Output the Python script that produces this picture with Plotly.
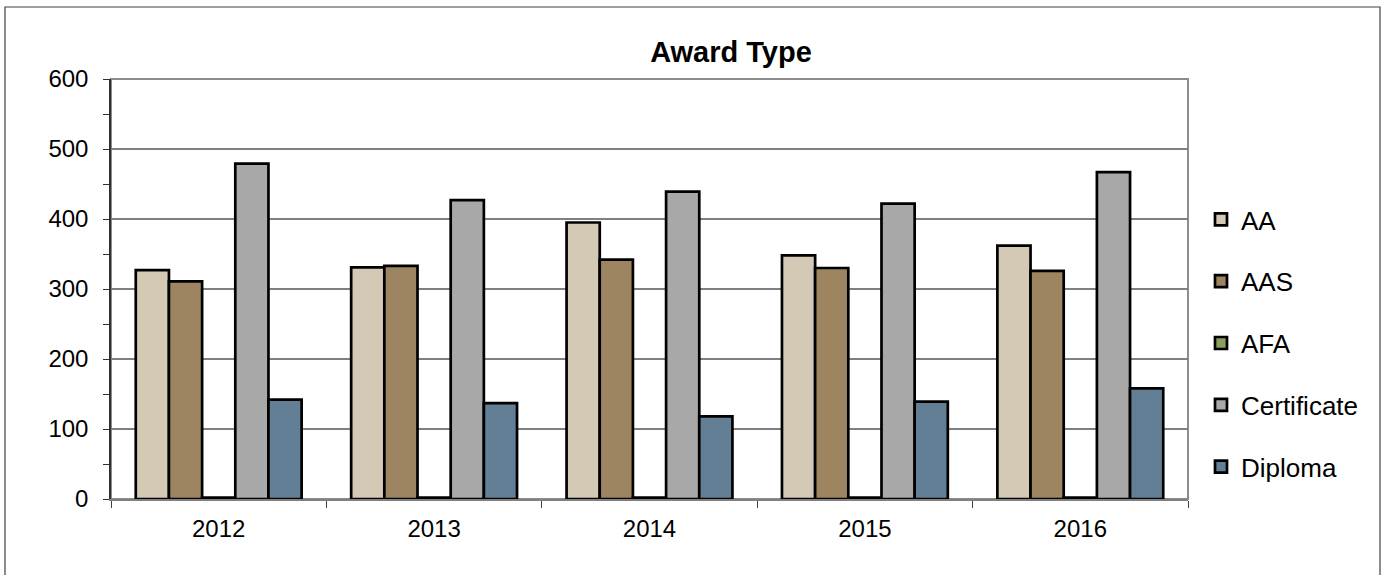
import plotly.graph_objects as go

years = ["2012", "2013", "2014", "2015", "2016"]
aa = [327, 331, 395, 348, 362]
aas = [311, 333, 342, 330, 326]
afa = [2, 2, 2, 2, 2]
certificate = [479, 427, 439, 422, 467]
diploma = [142, 137, 118, 139, 158]

series_names = ["AA", "AAS", "AFA", "Certificate", "Diploma"]
series_values = [aa, aas, afa, certificate, diploma]
series_colors = ["#D4C9B4", "#9D8562", "#8A9E5E", "#A8A8A8", "#637F96"]

W, H = 1384, 575
L, R, T, B = 111, 196, 79, 76
pw, ph = W - L - R, H - T - B

def px_x(p):
    return (p - L) / pw

def px_y(p):
    return (H - B - p) / ph

fig = go.Figure()
for i, (name, vals, col) in enumerate(zip(series_names, series_values, series_colors)):
    fig.add_trace(go.Bar(
        x=years, y=vals, name=name, legendgroup=name,
        marker=dict(color=col, line=dict(color="black", width=2.7)),
    ))

font = "Liberation Sans, Arial, sans-serif"

fig.update_layout(
    width=W, height=H,
    margin=dict(l=L, r=R, t=T, b=B, pad=0),
    paper_bgcolor="white", plot_bgcolor="white",
    barmode="group", bargap=0.23, bargroupgap=0,
    font=dict(family=font, color="black", size=24),
    title=dict(text="<b>Award Type</b>", font=dict(size=29, family=font, color="black"),
               x=px_x(731), xref="paper", xanchor="center",
               y=1 - 52 / H, yref="container", yanchor="middle"),
    showlegend=True,
    legend=dict(x=px_x(1201), xanchor="left", y=px_y(196), yanchor="top",
                font=dict(size=26, family=font), tracegroupgap=25,
                itemwidth=30, bgcolor="rgba(0,0,0,0)", traceorder="grouped"),
    xaxis=dict(showgrid=False, showline=True, linecolor="#808080", linewidth=1.5,
               ticks="outside", tickson="boundaries", ticklen=7, tickcolor="#404040",
               tickwidth=1, tickfont=dict(size=24, family=font), ticklabelstandoff=7,
               fixedrange=True),
    yaxis=dict(range=[0, 600], dtick=100, showgrid=True, gridcolor="#808080", gridwidth=1.5,
               showline=True, linecolor="#303030", linewidth=1.5,
               ticks="outside", ticklen=6, tickcolor="#303030", tickwidth=1.2,
               minor=dict(dtick=50, ticks="outside", ticklen=6, tickcolor="#303030", showgrid=False),
               tickfont=dict(size=24, family=font), ticklabelstandoff=10,
               zeroline=False, fixedrange=True),
    shapes=[
        dict(type="rect", xref="paper", yref="paper", x0=0, x1=1, y0=0, y1=1,
             line=dict(color="#8C8C8C", width=2), layer="below"),
        dict(type="rect", xref="paper", yref="paper",
             x0=px_x(5), x1=px_x(1380), y0=px_y(590), y1=px_y(7),
             line=dict(color="#404040", width=1.2), layer="below"),
    ],
)

fig.write_html("out.html", config={"displayModeBar": False},
               post_script="document.body.style.margin='0';document.body.style.overflow='hidden';")
